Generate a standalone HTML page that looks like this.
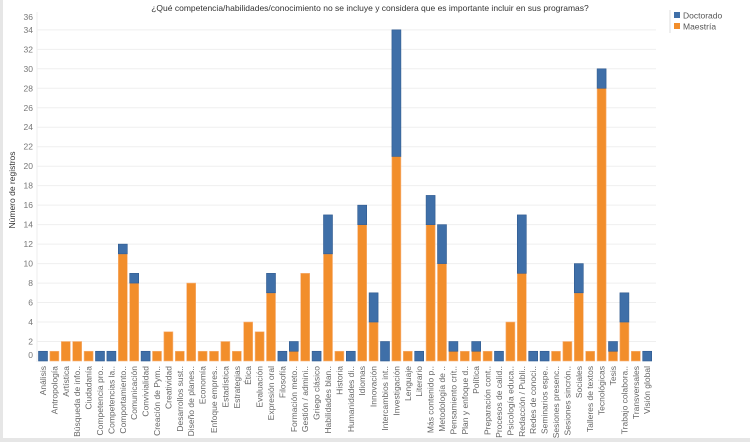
<!DOCTYPE html>
<html><head><meta charset="utf-8"><style>
html,body{margin:0;padding:0;background:#fff;}
body{width:750px;height:442px;overflow:hidden;font-family:"Liberation Sans",sans-serif;}
</style></head><body>
<svg id="chart" width="750" height="442" xmlns="http://www.w3.org/2000/svg">
<rect x="0" y="0" width="3" height="442" fill="#e6e6e6"/>
<rect x="0" y="438" width="750" height="4" fill="#e6e6e6"/>
<text x="370" y="11" font-size="8.5" fill="#333" text-anchor="middle">¿Qué competencia/habilidades/conocimiento no se incluye y considera que es importante incluir en sus programas?</text>
<text transform="translate(15,190) rotate(-90)" font-size="8.5" fill="#333" text-anchor="middle">Número de registros</text>
<line x1="670" y1="10" x2="670" y2="33" stroke="#ddd"/>
<g>
<g><rect x="674" y="12" width="6" height="6" fill="#3f6fa8"/><text x="683" y="18.5" font-size="8.5" fill="#555">Doctorado</text></g>
<g><rect x="674" y="23" width="6" height="6" fill="#f28e2b"/><text x="683" y="29.5" font-size="8.5" fill="#555">Maestría</text></g>
</g>
<g id="grid"></g><g id="bars"></g><g id="xlabels"></g>
</svg>
<script>
const categories=["Análisis","Antropología","Artística","Búsqueda de info..","Ciudadanía","Competencia pro..","Competencias la..","Comportamiento..","Comunicación","Convivialidad","Creación de Pym..","Creatividad","Desarrollos sust..","Diseño de planes..","Economía","Enfoque empres..","Estadística","Estrategias","Ética","Evaluación","Expresión oral","Filosofía","Formación meto..","Gestión / admini..","Griego clásico","Habilidades blan..","Historia","Humanidades di..","Idiomas","Innovación","Intercambios int..","Investigación","Lenguaje","Literario","Más contenido p..","Metodología de ..","Pensamiento crít..","Plan y enfoque d..","Política","Preparación cont..","Procesos de calid..","Psicología educa..","Redacción / Publi..","Redes de conoci..","Seminarios espe..","Sesiones presenc..","Sesiones sincrón..","Sociales","Talleres de textos","Tecnológicas","Tesis","Trabajo colabora..","Transversales","Visión global"];
const maestria=[0,1,2,2,1,0,0,11,8,0,1,3,1,8,1,1,2,1,4,3,7,0,1,9,0,11,1,0,14,4,0,21,1,0,14,10,1,1,1,1,0,4,9,0,0,1,2,7,1,28,1,4,1,0];
const doctorado=[1,0,0,0,0,1,1,1,1,1,0,0,0,0,0,0,0,0,0,0,2,1,1,0,1,4,0,1,2,3,2,13,0,1,3,4,1,0,1,0,1,0,6,1,1,0,0,3,0,2,1,3,0,1];
const yTicks=[0,2,4,6,8,10,12,14,16,18,20,22,24,26,28,30,32,34,36];
const NS="http://www.w3.org/2000/svg";
const y0=361, pxPerUnit=9.74, xStart=43, step=11.4, bw=9;
const yScale=v=>y0-v*pxPerUnit;
const xScale=i=>xStart+i*step;
const grid=document.getElementById('grid'),bars=document.getElementById('bars'),xl=document.getElementById('xlabels');
yTicks.forEach(t=>{
  const y=yScale(t);
  if(t>0&&t<36){const l=document.createElementNS(NS,'line');
  l.setAttribute('x1',37);l.setAttribute('x2',656);l.setAttribute('y1',y);l.setAttribute('y2',y);
  l.setAttribute('stroke','#efefef');
  
  
  grid.appendChild(l);}
  const tx=document.createElementNS(NS,'text');
  tx.setAttribute('x',33);tx.setAttribute('y',t===0?y-3:(t===36?Math.max(y,20):y+3));
  tx.setAttribute('font-size','8.5');tx.setAttribute('fill','#777');tx.setAttribute('text-anchor','end');
  tx.textContent=t;
  
  
  grid.appendChild(tx);
});
const ax=document.createElementNS(NS,'line');
ax.setAttribute('x1',37);ax.setAttribute('x2',37);ax.setAttribute('y1',12);ax.setAttribute('y2',362);ax.setAttribute('stroke','#eee');


grid.appendChild(ax);
categories.forEach((c,i)=>{
  const cx=xScale(i);
  const m=maestria[i],d=doctorado[i];
  if(m>0){const r=document.createElementNS(NS,'rect');
    r.setAttribute('x',cx-bw/2);r.setAttribute('width',bw);r.setAttribute('y',yScale(m));r.setAttribute('height',yScale(0)-yScale(m));
    r.setAttribute('fill','#f28e2b');r.setAttribute('stroke','#f7b27a');r.setAttribute('stroke-width','0.6');
    
    
    bars.appendChild(r);}
  if(d>0){const r=document.createElementNS(NS,'rect');
    r.setAttribute('x',cx-bw/2);r.setAttribute('width',bw);r.setAttribute('y',yScale(m+d));r.setAttribute('height',yScale(m)-yScale(m+d));
    r.setAttribute('fill','#3f6fa8');r.setAttribute('stroke','#2f5a8f');r.setAttribute('stroke-width','0.6');
    
    
    bars.appendChild(r);}
  const t=document.createElementNS(NS,'text');
  t.setAttribute('transform','translate('+(cx+3)+',366) rotate(-90)');
  t.setAttribute('font-size','8.5');t.setAttribute('fill','#666');t.setAttribute('text-anchor','end');
  t.textContent=c;
  
  
  xl.appendChild(t);
});
</script>
</body></html>
